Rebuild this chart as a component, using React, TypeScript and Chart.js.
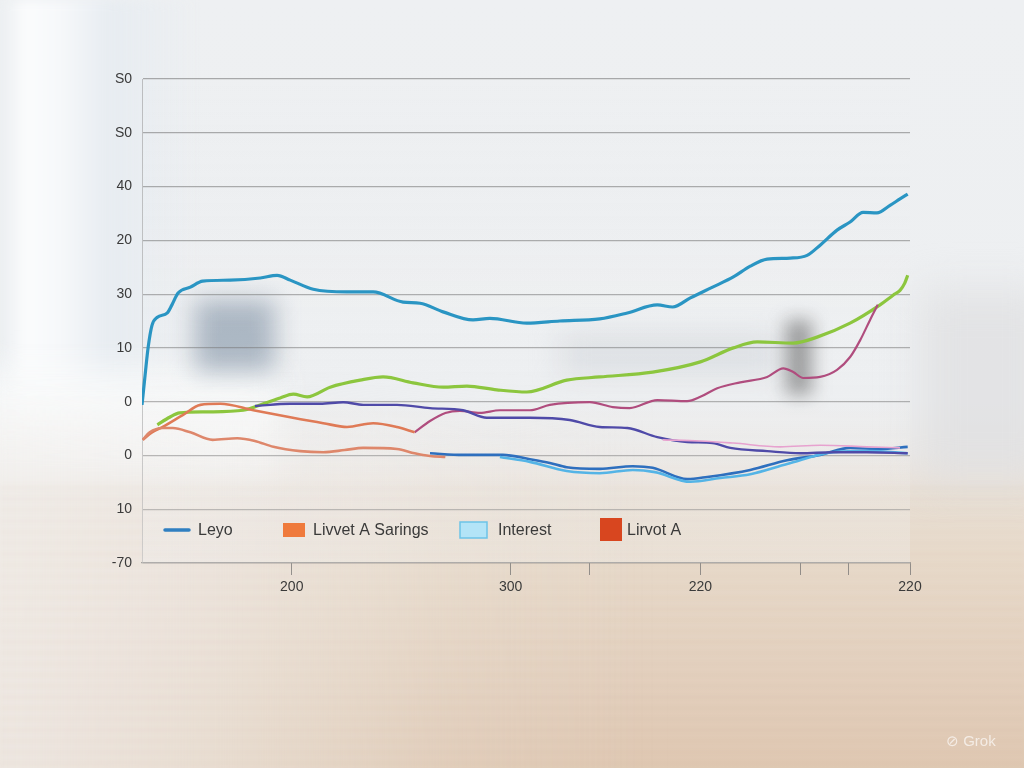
import React, { useEffect, useRef } from "react";
import { Chart, registerables } from "chart.js";

Chart.register(...registerables);

// ---- tick labels ----
const yTickLabels = ["-70", "10", "0", "0", "10", "30", "20", "40", "S0", "S0"]; // bottom -> top
const xTickValues = [19.5, 48, 58.3, 72.7, 85.7, 92, 100];
const xTickLabels = ["200", "300", "", "220", "", "", "220"];

// ---- series (x on 0..100 axis, y on gridline units) ----
const tealX = [0, 0.4, 0.8, 1.3, 2.0, 3.3, 3.9, 4.7, 6.3, 7.9, 11.5, 15.4, 17.6, 19.3, 22.3, 26.7, 30.1, 34.0, 36.2, 39.2, 43.1, 45.3, 50.1, 54.4, 59.6, 63.2, 67.1, 69.1, 71.4, 74.3, 77.0, 79.2, 81.4, 84.4, 86.6, 88.3, 90.5, 92.2, 93.9, 95.7, 97.4, 98.7, 99.7];
const tealY = [2.94, 3.49, 4.01, 4.42, 4.57, 4.65, 4.8, 5.02, 5.13, 5.24, 5.26, 5.3, 5.35, 5.26, 5.09, 5.04, 5.04, 4.85, 4.83, 4.67, 4.52, 4.55, 4.46, 4.5, 4.54, 4.65, 4.8, 4.76, 4.93, 5.13, 5.32, 5.52, 5.65, 5.67, 5.72, 5.91, 6.19, 6.34, 6.52, 6.51, 6.65, 6.77, 6.86];

const greenX = [2.0, 3.6, 4.9, 8.5, 13.2, 15.8, 18.0, 19.7, 21.5, 24.5, 28.4, 31.4, 35.3, 39.2, 42.3, 46.2, 50.1, 55.3, 59.6, 66.5, 72.7, 77.0, 80.1, 84.8, 87.9, 92.2, 96.1, 97.8, 98.7, 99.3, 99.7];
const greenY = [2.57, 2.71, 2.79, 2.81, 2.84, 2.96, 3.07, 3.14, 3.09, 3.27, 3.4, 3.46, 3.35, 3.27, 3.29, 3.22, 3.18, 3.4, 3.46, 3.55, 3.74, 4.0, 4.11, 4.09, 4.2, 4.46, 4.8, 4.98, 5.07, 5.2, 5.35];

const salmonX = [0.1, 1.0, 2.7, 4.0, 6.3, 9.2, 12.4, 14.7, 17.1, 20.6, 23.6, 26.4, 28.8, 33.2, 35.5, 37.5, 39.5];
const salmonY = [2.29, 2.43, 2.51, 2.51, 2.43, 2.29, 2.32, 2.27, 2.16, 2.08, 2.06, 2.1, 2.14, 2.12, 2.04, 1.99, 1.97];

const orangeX = [0.1, 1.3, 2.7, 5.3, 7.6, 10.2, 14.5, 19.3, 23.6, 26.7, 30.1, 33.2, 35.5];
const orangeY = [2.29, 2.43, 2.53, 2.75, 2.94, 2.96, 2.84, 2.71, 2.6, 2.53, 2.6, 2.53, 2.43];

const magentaX = [35.5, 37.5, 39.5, 41.4, 44.0, 46.6, 50.5, 53.1, 58.3, 61.3, 63.5, 67.1, 71.0, 72.7, 74.9, 77.9, 81.4, 83.5, 84.8, 86.1, 88.3, 90.5, 92.2, 93.5, 94.8, 95.8];
const magentaY = [2.43, 2.64, 2.79, 2.83, 2.79, 2.84, 2.84, 2.94, 2.99, 2.9, 2.88, 3.03, 3.01, 3.09, 3.25, 3.36, 3.46, 3.62, 3.55, 3.44, 3.46, 3.59, 3.83, 4.14, 4.52, 4.8];

const purpleX = [14.7, 19.3, 23.2, 26.2, 28.8, 33.2, 37.5, 41.8, 44.9, 50.5, 55.7, 59.6, 63.2, 67.1, 71.0, 74.3, 76.6, 81.4, 85.7, 90.0, 94.4, 99.7];
const purpleY = [2.92, 2.96, 2.96, 2.99, 2.94, 2.94, 2.88, 2.84, 2.7, 2.7, 2.66, 2.53, 2.51, 2.34, 2.25, 2.23, 2.14, 2.08, 2.04, 2.06, 2.06, 2.04];

const pinkX = [67.8, 72.7, 77.0, 83.1, 88.3, 94.4, 98.7];
const pinkY = [2.29, 2.27, 2.23, 2.16, 2.19, 2.16, 2.14];

const blueX = [37.5, 41.8, 47.0, 50.5, 53.1, 55.3, 59.6, 63.9, 66.5, 71.0, 73.6, 79.2, 84.0, 88.3, 92.2, 96.1, 99.7];
const blueY = [2.04, 2.01, 2.01, 1.93, 1.86, 1.78, 1.75, 1.8, 1.77, 1.56, 1.6, 1.73, 1.91, 2.01, 2.14, 2.12, 2.16];

const lightBlueX = [46.6, 50.5, 55.3, 59.6, 63.9, 66.8, 71.4, 75.3, 79.2, 84.0, 90.0, 94.8, 99.7];
const lightBlueY = [1.97, 1.88, 1.71, 1.67, 1.73, 1.69, 1.51, 1.58, 1.65, 1.84, 2.06, 2.08, 2.04];

// ---- legend ----
const legendLabels = ["Leyo", "Livvet A Sarings", "Interest", "Lirvot A"];

const pts = (xs: number[], ys: number[]) => xs.map((x, i) => ({ x, y: ys[i] }));

const legendPlugin = {
  id: "customLegend",
  beforeDatasetsDraw(chart: any) {
    const { ctx, chartArea } = chart;
    ctx.save();
    const g = ctx.createLinearGradient(0, chartArea.top, 0, chartArea.bottom);
    g.addColorStop(0, "rgba(245,245,245,0)");
    g.addColorStop(0.7, "rgba(245,245,245,0.1)");
    g.addColorStop(1, "rgba(240,239,238,0.35)");
    ctx.fillStyle = g;
    ctx.fillRect(chartArea.left, chartArea.top, chartArea.right - chartArea.left, chartArea.bottom - chartArea.top);
    ctx.restore();
  },
  afterDraw(chart: any) {
    const { ctx, chartArea } = chart;
    const y = chartArea.bottom - 33;
    const l = chartArea.left;
    ctx.save();
    ctx.font = '16px "Liberation Sans", Arial, sans-serif';
    ctx.fillStyle = "#3a3a3a";
    ctx.textBaseline = "middle";
    ctx.strokeStyle = "#2f7fc1";
    ctx.lineWidth = 3.5;
    ctx.lineCap = "round";
    ctx.beginPath();
    ctx.moveTo(l + 23, y);
    ctx.lineTo(l + 47, y);
    ctx.stroke();
    ctx.fillText(legendLabels[0], l + 56, y + 1);
    ctx.fillStyle = "#ef7a3c";
    ctx.fillRect(l + 141, y - 7, 22, 14);
    ctx.fillStyle = "#3a3a3a";
    ctx.fillText(legendLabels[1], l + 171, y + 1);
    ctx.fillStyle = "#b3e4f7";
    ctx.fillRect(l + 318, y - 8, 27, 16);
    ctx.strokeStyle = "#6cc3e8";
    ctx.lineWidth = 1.5;
    ctx.strokeRect(l + 318, y - 8, 27, 16);
    ctx.fillStyle = "#3a3a3a";
    ctx.fillText(legendLabels[2], l + 356, y + 1);
    ctx.fillStyle = "#d8461f";
    ctx.fillRect(l + 458, y - 12, 22, 23);
    ctx.fillStyle = "#3a3a3a";
    ctx.fillText(legendLabels[3], l + 485, y + 1);
    ctx.restore();
  },
};

export default function App() {
  const ref = useRef<HTMLCanvasElement | null>(null);

  useEffect(() => {
    if (!ref.current) return;
    const mk = (label: string, xs: number[], ys: number[], color: string, width: number) => ({
      label,
      data: pts(xs, ys),
      borderColor: color,
      backgroundColor: color,
      borderWidth: width,
      pointRadius: 0,
      tension: 0.4,
      cubicInterpolationMode: "monotone" as const,
      fill: false,
    });
    const chart = new Chart(ref.current, {
      type: "line",
      data: {
        datasets: [
          mk("salmon", salmonX, salmonY, "#de876b", 2.6),
          mk("orange", orangeX, orangeY, "#df7a56", 2.6),
          mk("pink", pinkX, pinkY, "#e7a2cf", 1.6),
          mk("purple", purpleX, purpleY, "#4f4aa8", 2.4),
          mk("magenta", magentaX, magentaY, "#b04d7e", 2.2),
          mk("lightblue", lightBlueX, lightBlueY, "#54b4e6", 2.6),
          mk("blue", blueX, blueY, "#2e6fbe", 2.6),
          mk("green", greenX, greenY, "#8cc63e", 3.2),
          mk("teal", tealX, tealY, "#2a95c3", 3.2),
        ],
      },
      options: {
        responsive: false,
        animation: false,
        layout: { padding: { top: 79, right: 114, left: 0, bottom: 0 } },
        plugins: { legend: { display: false }, tooltip: { enabled: false } },
        scales: {
          x: {
            type: "linear",
            min: 0,
            max: 100,
            afterBuildTicks: (scale: any) => {
              scale.ticks = xTickValues.map((v) => ({ value: v }));
            },
            afterFit: (scale: any) => {
              scale.height = 205;
            },
            ticks: {
              autoSkip: false,
              maxRotation: 0,
              padding: 4,
              color: "#3a3a3a",
              font: { family: '"Liberation Sans", Arial, sans-serif', size: 14 },
              callback: (v: any) => {
                const i = xTickValues.indexOf(Number(v));
                return i >= 0 ? xTickLabels[i] : "";
              },
            },
            grid: {
              drawOnChartArea: false,
              drawTicks: true,
              tickLength: 12,
              color: "rgba(110,110,110,0.7)",
            },
            border: { display: true, color: "rgba(120,120,120,0.6)", width: 1.2 },
          },
          y: {
            type: "linear",
            min: 0,
            max: 9,
            afterFit: (scale: any) => {
              scale.width = 142;
            },
            ticks: {
              stepSize: 1,
              padding: 10,
              color: "#3a3a3a",
              font: { family: '"Liberation Sans", Arial, sans-serif', size: 14 },
              callback: (v: any) => yTickLabels[Number(v)] ?? "",
            },
            grid: {
              drawTicks: false,
              color: "rgba(110,110,110,0.55)",
              lineWidth: 1.2,
            },
            border: { display: true, color: "rgba(150,150,150,0.55)", width: 1 },
          },
        },
      },
      plugins: [legendPlugin],
    } as any);
    return () => chart.destroy();
  }, []);

  const blob = (s: React.CSSProperties): React.CSSProperties => ({ position: "absolute", ...s });
  const fadeDown = "linear-gradient(to bottom, black 0%, black 75%, transparent 100%)";

  return (
    <div
      style={{
        position: "fixed",
        left: 0,
        top: 0,
        width: 1024,
        height: 768,
        overflow: "hidden",
        background:
          "linear-gradient(to bottom, #eef0f2 0%, #edeff1 52%, #ebe9e7 59%, #e9e0d6 64%, #e8dacb 72%, #e4d1bf 86%, #dfc8b2 100%)",
      }}
    >
      {/* left window glow */}
      <div style={blob({ left: 0, top: 0, width: 200, height: 480, background: "linear-gradient(to right, #e9ecef 0px, #fbfcfd 25px, #f6f8fa 60px, #e7ecf1 110px, rgba(236,239,242,0) 200px)", filter: "blur(6px)", WebkitMaskImage: fadeDown, maskImage: fadeDown })} />
      <div style={blob({ left: -20, top: 370, width: 300, height: 100, background: "rgba(250,251,252,0.85)", filter: "blur(18px)" })} />
      {/* pale left side of the table */}
      <div style={blob({ left: -40, top: 420, width: 1100, height: 400, background: "linear-gradient(to right, rgba(242,240,238,0.85) 0px, rgba(242,240,238,0.55) 240px, rgba(242,240,238,0.15) 490px, rgba(242,240,238,0) 690px)", filter: "blur(24px)" })} />
      {/* dark blurred objects */}
      <div style={blob({ left: 195, top: 300, width: 80, height: 72, background: "rgba(70,95,125,0.42)", filter: "blur(12px)" })} />
      <div style={blob({ left: 560, top: 335, width: 220, height: 40, background: "rgba(200,205,210,0.45)", filter: "blur(14px)" })} />
      <div style={blob({ left: 786, top: 320, width: 26, height: 75, background: "rgba(60,60,60,0.5)", filter: "blur(9px)" })} />
      <div style={blob({ left: 920, top: 290, width: 130, height: 190, background: "rgba(222,222,224,0.7)", filter: "blur(20px)" })} />
      {/* soft wood grain */}
      <div style={blob({ left: 0, top: 480, width: 1024, height: 288, background: "repeating-linear-gradient(to bottom, rgba(255,255,255,0.035) 0px, rgba(255,255,255,0.035) 5px, rgba(160,120,90,0.03) 5px, rgba(160,120,90,0.03) 11px)", filter: "blur(2px)" })} />
      <canvas ref={ref} width={1024} height={768} style={{ position: "absolute", left: 0, top: 0, display: "block" }} />
      <div
        style={{
          position: "absolute",
          left: 946,
          top: 732,
          color: "rgba(255,255,255,0.65)",
          font: '15px "Liberation Sans", Arial, sans-serif',
        }}
      >
        ⊘ Grok
      </div>
    </div>
  );
}
